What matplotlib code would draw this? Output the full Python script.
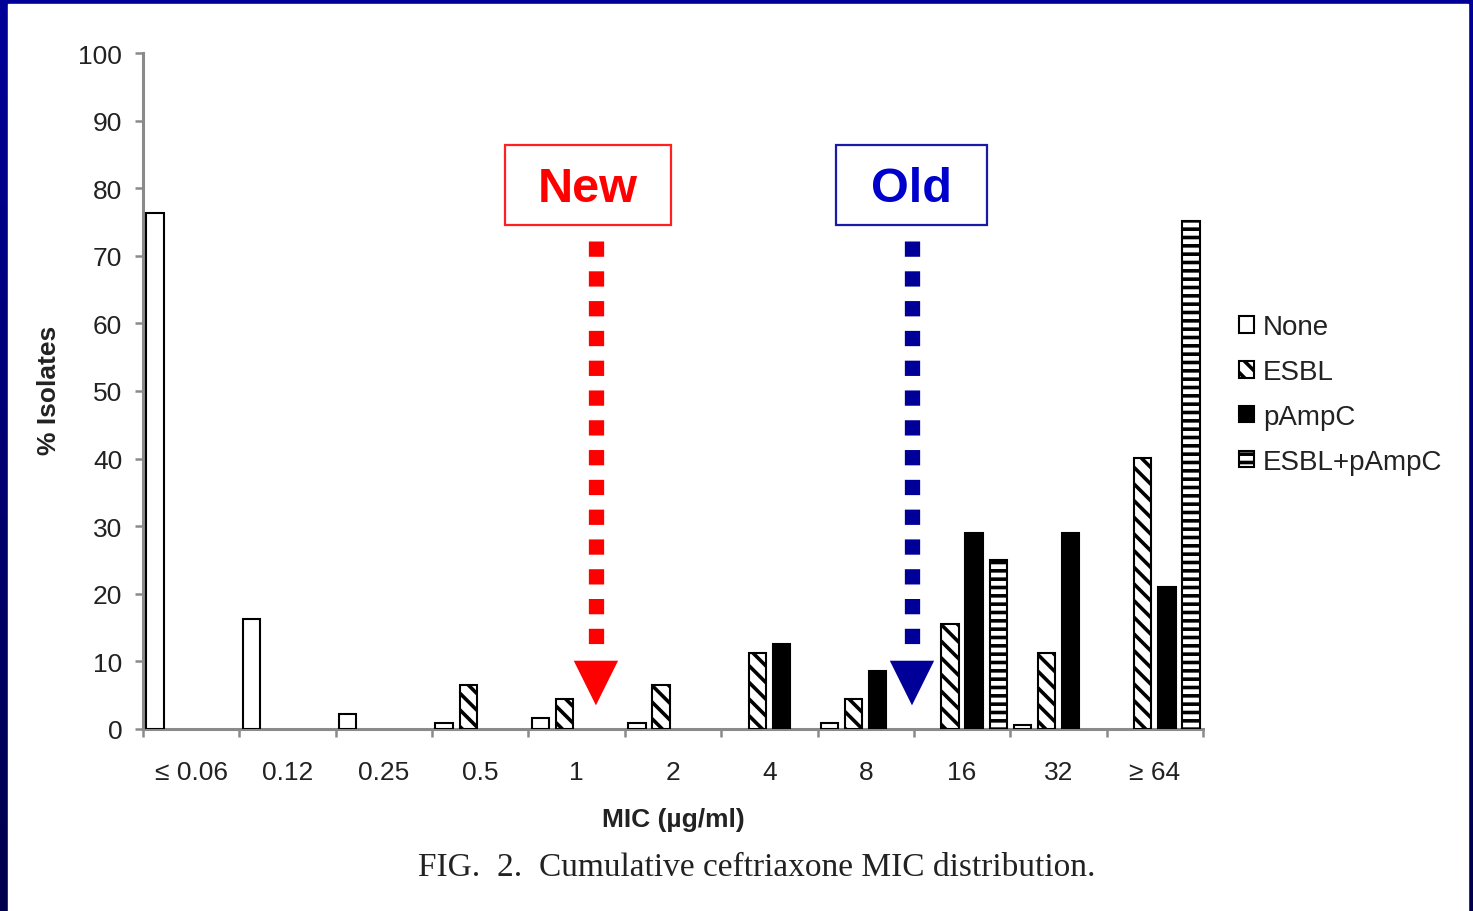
import numpy as np
import matplotlib
matplotlib.use("Agg")
import matplotlib.pyplot as plt
from matplotlib.patches import Rectangle, Polygon, Patch

# ---------------- data ----------------
categories = ["\u2264 0.06", "0.12", "0.25", "0.5", "1", "2", "4", "8", "16", "32", "\u2265 64"]
series_names = ["None", "ESBL", "pAmpC", "ESBL+pAmpC"]
none_vals  = [76.3, 16.3, 2.2, 0.9, 1.6, 0.9, 0.0, 0.9, 0.0, 0.6, 0.0]
esbl_vals  = [0.0, 0.0, 0.0, 6.5, 4.4, 6.5, 11.2, 4.4, 15.5, 11.2, 40.1]
pampc_vals = [0.0, 0.0, 0.0, 0.0, 0.0, 0.0, 12.6, 8.6, 29.0, 29.0, 21.0]
both_vals  = [0.0, 0.0, 0.0, 0.0, 0.0, 0.0, 0.0, 0.0, 25.0, 0.0, 75.1]
yticks = [0, 10, 20, 30, 40, 50, 60, 70, 80, 90, 100]

# annotation positions (x in category units, y in %)
new_x, old_x = 4.70, 7.98
caption = "FIG.  2.  Cumulative ceftriaxone MIC distribution."

plt.rcParams['font.family'] = ['Liberation Sans', 'DejaVu Sans']
plt.rcParams['hatch.linewidth'] = 2.6
plt.rcParams['hatch.color'] = 'black'

W, H = 1473, 912
fig = plt.figure(figsize=(W / 100, H / 100), dpi=100)

# background gradient (dark blue frame)
bg = fig.add_axes([0, 0, 1, 1], zorder=-10)
grad = np.linspace(0, 1, 256).reshape(-1, 1)
top_c = np.array([0x00, 0x00, 0x99]) / 255
bot_c = np.array([0x00, 0x00, 0x4d]) / 255
img = top_c[None, None, :] * (1 - grad[:, :, None]) + bot_c[None, None, :] * grad[:, :, None]
bg.imshow(img, aspect='auto', extent=[0, 1, 0, 1])
bg.add_patch(Rectangle((8 / W, 0), (1468 - 8) / W, (H - 5) / H, color='white', transform=bg.transAxes))
bg.set_xlim(0, 1); bg.set_ylim(0, 1)
bg.axis('off')

left, right = 143 / W, 1203 / W
bottom, top = (H - 730) / H, (H - 54) / H
ax = fig.add_axes([left, bottom, right - left, top - bottom])
ax.patch.set_alpha(0)

n = len(categories)
idx = np.arange(n)
slot = 0.25
bw = 0.18
vals = [none_vals, esbl_vals, pampc_vals, both_vals]
styles = [dict(facecolor='white', hatch=None),
          dict(facecolor='white', hatch='\\\\'),
          dict(facecolor='black', hatch=None),
          dict(facecolor='white', hatch='--')]
for k, (v, st) in enumerate(zip(vals, styles)):
    v = np.array(v)
    mask = v > 0
    ax.bar(idx[mask] + slot / 2 + k * slot, v[mask], width=bw, edgecolor='black',
           linewidth=1.5, zorder=3, **st)

ax.set_xlim(0, n)
ax.set_ylim(0, 100)
ax.set_yticks(yticks)
ax.set_xticks(idx + 0.5)
ax.set_xticklabels(categories)
ax.set_xticks(np.arange(n + 1), minor=True)

for s in ['top', 'right']:
    ax.spines[s].set_visible(False)
for s in ['left', 'bottom']:
    ax.spines[s].set_color('#8a8a8a')
    ax.spines[s].set_linewidth(2.2)

ax.tick_params(axis='y', length=6, width=1.8, color='#8a8a8a', pad=9,
               labelsize=19, labelcolor='#222222')
ax.tick_params(axis='x', which='major', length=0, pad=22, labelsize=19, labelcolor='#222222')
ax.tick_params(axis='x', which='minor', length=6, width=1.8, color='#8a8a8a')

ax.set_ylabel("% Isolates", fontsize=19, fontweight='bold', color='#222222', va='center')
ax.yaxis.set_label_coords(-0.0890, 0.503)
ax.set_xlabel("MIC (\u00b5g/ml)", fontsize=19, fontweight='bold', color='#222222', va='center')
ax.xaxis.set_label_coords(0.5, -0.133)

# legend
handles = [Patch(facecolor=st['facecolor'], edgecolor='black', hatch=st['hatch'], linewidth=1.5)
           for st in styles]
leg = fig.legend(handles, series_names, loc='upper left', bbox_to_anchor=(1228 / W, (H - 304) / H),
                 frameon=False, fontsize=20, handlelength=0.55, handleheight=0.55,
                 handletextpad=0.3, labelspacing=0.68, borderaxespad=0)
for t in leg.get_texts():
    t.set_color('#222222')

# "New" / "Old" annotations
def arrow_box(x, label, box, txtcol, boxcol, arrcol):
    x0, x1 = box
    ax.add_patch(Rectangle((x0, 74.6), x1 - x0, 86.4 - 74.6, facecolor='white',
                           edgecolor=boxcol, linewidth=1.6, zorder=5, clip_on=False))
    ax.text((x0 + x1) / 2, 80.0, label, ha='center', va='center', fontsize=35,
            fontweight='bold', color=txtcol, zorder=6)
    ax.plot([x, x], [72.2, 12.1], color=arrcol, linewidth=11, dashes=(1, 0.95),
            solid_capstyle='butt', dash_capstyle='butt', zorder=5)
    ax.add_patch(Polygon([[x - 0.23, 10.1], [x + 0.23, 10.1], [x, 3.5]], closed=True,
                         facecolor=arrcol, edgecolor='none', zorder=5))

arrow_box(new_x, "New", (3.757, 5.480), '#ff0000', '#ff2020', '#ff0000')
arrow_box(old_x, "Old", (7.19, 8.76), '#0000cc', '#1a1aa8', '#000099')

fig.text(757 / W, (H - 868) / H, caption, ha='center', va='center', fontsize=24,
         family=['Liberation Serif', 'DejaVu Serif'], color='#222222')

fig.savefig("out.png", dpi=100, facecolor=fig.get_facecolor())
